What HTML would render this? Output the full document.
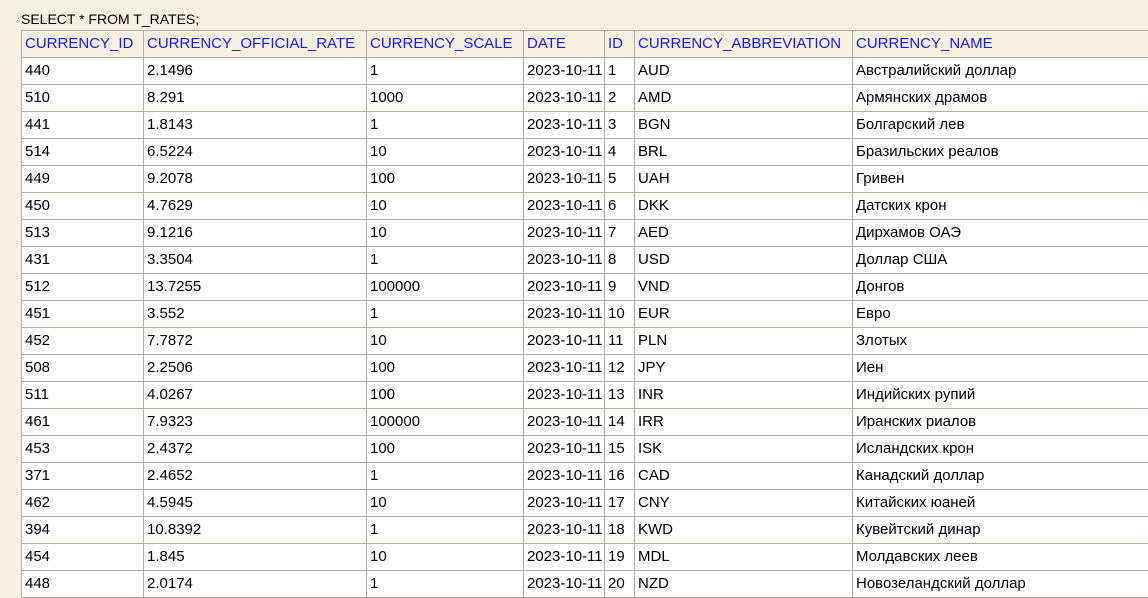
<!DOCTYPE html>
<html><head><meta charset="utf-8"><style>
body{margin:0;width:1148px;height:583px;overflow:hidden;background:#f4f0e2;font-family:"Liberation Sans",Arial,sans-serif;font-size:15px;color:#000}
#q{position:absolute;left:21px;top:11px;font-size:14px}
table{position:absolute;left:21px;top:30px;border-collapse:collapse;table-layout:fixed;width:1140px}
td,th{border:1px solid #b5ae9e;height:27px;padding:0 0 0 3px;text-align:left;font-weight:normal;white-space:nowrap;overflow:hidden;box-sizing:border-box;line-height:26px}
th{color:#1a1aff;background:#f4f0e2}
td{background:#fff}
</style></head><body>
<div id="q">SELECT * FROM T_RATES;</div>
<table>
<colgroup><col style="width:122px"><col style="width:223px"><col style="width:157px"><col style="width:81px"><col style="width:30px"><col style="width:218px"><col style="width:309px"></colgroup>
<thead><tr><th>CURRENCY_ID</th><th>CURRENCY_OFFICIAL_RATE</th><th>CURRENCY_SCALE</th><th>DATE</th><th>ID</th><th>CURRENCY_ABBREVIATION</th><th>CURRENCY_NAME</th></tr></thead>
<tbody id="tb"></tbody></table>
<script>
const rows=[
["440","2.1496","1","AUD","Австралийский доллар"],
["510","8.291","1000","AMD","Армянских драмов"],
["441","1.8143","1","BGN","Болгарский лев"],
["514","6.5224","10","BRL","Бразильских реалов"],
["449","9.2078","100","UAH","Гривен"],
["450","4.7629","10","DKK","Датских крон"],
["513","9.1216","10","AED","Дирхамов ОАЭ"],
["431","3.3504","1","USD","Доллар США"],
["512","13.7255","100000","VND","Донгов"],
["451","3.552","1","EUR","Евро"],
["452","7.7872","10","PLN","Злотых"],
["508","2.2506","100","JPY","Иен"],
["511","4.0267","100","INR","Индийских рупий"],
["461","7.9323","100000","IRR","Иранских риалов"],
["453","2.4372","100","ISK","Исландских крон"],
["371","2.4652","1","CAD","Канадский доллар"],
["462","4.5945","10","CNY","Китайских юаней"],
["394","10.8392","1","KWD","Кувейтский динар"],
["454","1.845","10","MDL","Молдавских леев"],
["448","2.0174","1","NZD","Новозеландский доллар"]];
const tb=document.getElementById('tb');
rows.forEach((r,i)=>{
 const tr=document.createElement('tr');
 
 
 [r[0],r[1],r[2],'2023-10-11',String(i+1),r[3],r[4]].forEach(v=>{
  const td=document.createElement('td');td.textContent=v;
  
  
  tr.appendChild(td);});
 tb.appendChild(tr);});
</script>
</body></html>
